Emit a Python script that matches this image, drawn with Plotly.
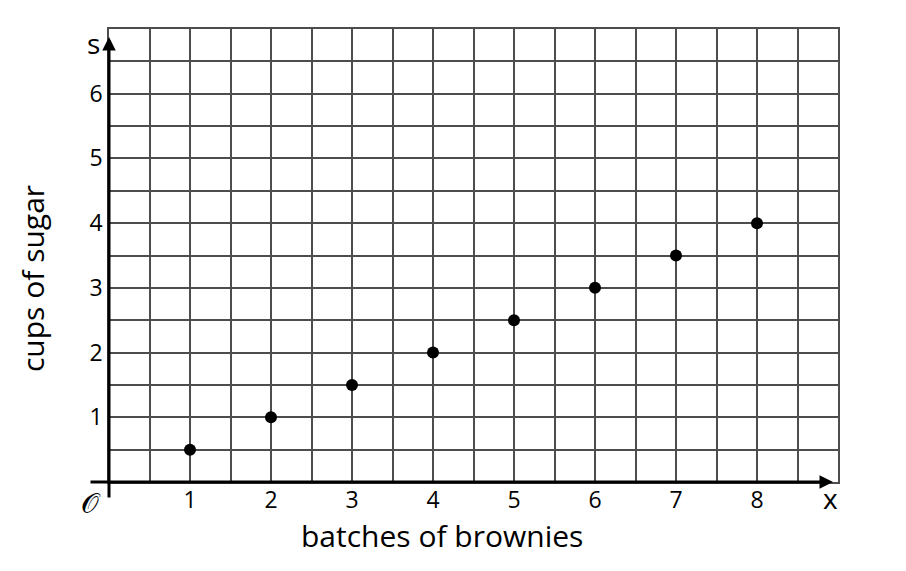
import plotly.graph_objects as go

batches = [1, 2, 3, 4, 5, 6, 7, 8]
cups_sugar = [0.5, 1, 1.5, 2, 2.5, 3, 3.5, 4]
x_ticks = [1, 2, 3, 4, 5, 6, 7, 8]
y_ticks = [1, 2, 3, 4, 5, 6]

FONT = "Open Sans"
GRID = "#4d4d4d"

fig = go.Figure()
fig.add_trace(go.Scatter(
    x=batches, y=cups_sugar, mode="markers",
    marker=dict(color="black", size=12),
    cliponaxis=False, showlegend=False, hoverinfo="x+y"))

W, H = 906, 571
L, R, T, B = 109, 68, 29, 89

fig.update_layout(
    width=W, height=H,
    margin=dict(l=L, r=R, t=T, b=B, pad=0),
    paper_bgcolor="white", plot_bgcolor="white",
    font=dict(family=FONT, color="black", size=22),
    xaxis=dict(range=[0, 9], tickvals=x_ticks, ticktext=[str(v) for v in x_ticks],
               showgrid=True, gridcolor=GRID, gridwidth=1.5,
               minor=dict(dtick=0.5, tick0=0, showgrid=True, gridcolor=GRID, gridwidth=1.5),
               showline=True, mirror=True, linecolor=GRID, linewidth=1.5,
               zeroline=False, ticks="", ticklabelstandoff=-3, fixedrange=True,
               tickfont=dict(size=23, family=FONT)),
    yaxis=dict(range=[0, 7], tickvals=y_ticks, ticktext=[str(v) for v in y_ticks],
               showgrid=True, gridcolor=GRID, gridwidth=1.5,
               minor=dict(dtick=0.5, tick0=0, showgrid=True, gridcolor=GRID, gridwidth=1.5),
               showline=True, mirror=True, linecolor=GRID, linewidth=1.5,
               zeroline=False, ticks="", ticklabelstandoff=0, fixedrange=True,
               tickfont=dict(size=23, family=FONT)),
)

pw = W - L - R
ph = H - T - B

def px_x(p):
    return (p - L) / pw

def px_y(p):
    return (H - B - p) / ph

def label(text, x, y, size, **kw):
    return dict(x=px_x(x), y=px_y(y), xref="paper", yref="paper", text=text,
                showarrow=False, xanchor="center", yanchor="middle",
                font=dict(size=size, family=FONT, color="black"), **kw)

annotations = [
    # x axis arrow
    dict(x=px_x(833), y=0, xref="paper", yref="paper", ax=89 - 833, ay=0,
         showarrow=True, arrowhead=2, arrowsize=0.9,
         arrowwidth=3, arrowcolor="black", text=""),
    # y axis arrow
    dict(x=0, y=px_y(37), xref="paper", yref="paper", ax=0, ay=499 - 37,
         showarrow=True, arrowhead=2, arrowsize=0.9,
         arrowwidth=3, arrowcolor="black", text=""),
    label("s", 93, 43, 28),
    label("x", 830, 498, 28),
    label("𝒪", 91, 502, 28),
    label("batches of brownies", 442, 535, 30),
    label("cups of sugar", 32, 279, 30, textangle=-90),
]
fig.update_layout(annotations=annotations)

fig.write_html("out.html", config={"displayModeBar": False},
               post_script="document.body.style.margin='0';document.body.style.overflow='hidden';")
